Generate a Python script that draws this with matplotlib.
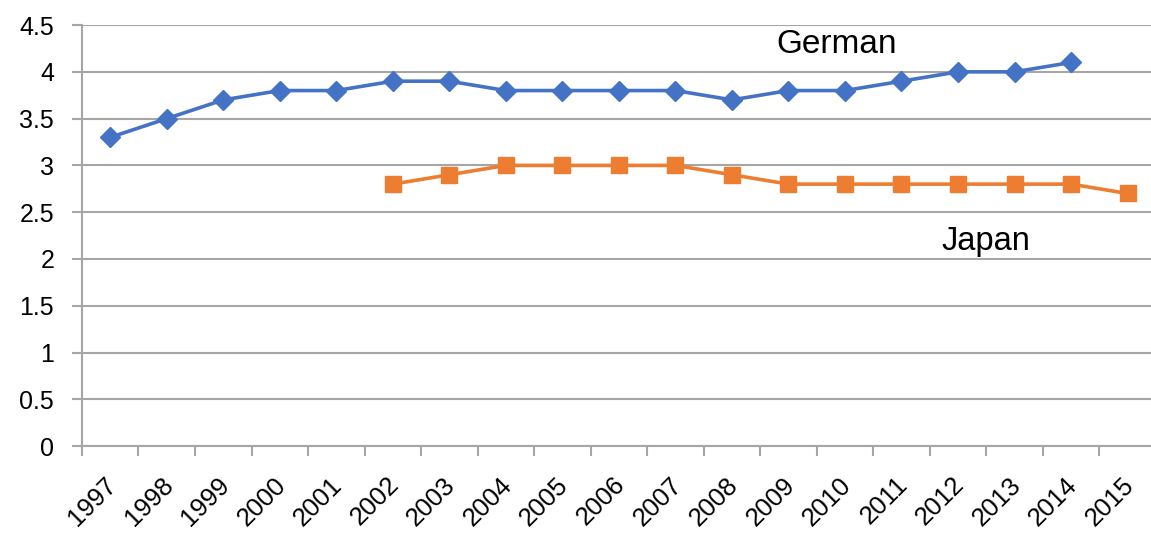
import matplotlib
matplotlib.use("Agg")
import matplotlib.pyplot as plt
from matplotlib.transforms import ScaledTranslation

plt.rcParams['font.family'] = ['Liberation Sans', 'DejaVu Sans']

years = [str(y) for y in range(1997, 2016)]
german_years = years[:18]
german = [3.3, 3.5, 3.7, 3.8, 3.8, 3.9, 3.9, 3.8, 3.8, 3.8, 3.8, 3.7, 3.8, 3.8, 3.9, 4.0, 4.0, 4.1]
japan_years = years[5:]
japan = [2.8, 2.9, 3.0, 3.0, 3.0, 3.0, 2.9, 2.8, 2.8, 2.8, 2.8, 2.8, 2.8, 2.7]
yticks = [0, 0.5, 1, 1.5, 2, 2.5, 3, 3.5, 4, 4.5]
ytick_labels = ['0', '0.5', '1', '1.5', '2', '2.5', '3', '3.5', '4', '4.5']

fig = plt.figure(figsize=(11.51, 5.33), dpi=100)
ax = fig.add_axes([0.0712, 0.163, 0.933, 0.79])

gx = [years.index(y) for y in german_years]
jx = [years.index(y) for y in japan_years]

ax.plot(gx, german, color='#4472C4', lw=2.6, marker='D', markersize=10.5, zorder=3)
ax.plot(jx, japan, color='#ED7D31', lw=2.6, marker='s', markersize=11.5, zorder=3)

ax.set_xlim(-0.5, len(years) - 0.5)
ax.set_ylim(0, 4.5)

ax.set_yticks(yticks)
ax.set_yticklabels(ytick_labels, fontsize=18)
ax.yaxis.grid(True, color='#A6A6A6', lw=1.5)
ax.set_axisbelow(True)

# category boundaries carry the tick marks, labels sit at category centres
ax.set_xticks([i - 0.5 for i in range(len(years) + 1)])
ax.set_xticklabels([])
ax.set_xticks(range(len(years)), minor=True)
ax.set_xticklabels(years, minor=True, rotation=45, ha='right',
                   rotation_mode='anchor', fontsize=18.5)
ax.tick_params(axis='x', which='minor', length=0, pad=19)
ax.tick_params(axis='x', which='major', length=7, color='#A6A6A6', width=1.5)
ax.tick_params(axis='y', length=7, color='#A6A6A6', width=1.5, pad=13)

shift = ScaledTranslation(-6 / 100, 0, fig.dpi_scale_trans)
for lbl in ax.get_xticklabels(minor=True):
    lbl.set_transform(lbl.get_transform() + shift)

for side in ('top', 'right'):
    ax.spines[side].set_visible(False)
for side in ('left', 'bottom'):
    ax.spines[side].set_color('#A6A6A6')
    ax.spines[side].set_linewidth(1.5)

ax.text(12.85, 4.20, 'German', fontsize=24, ha='center', va='baseline')
ax.text(15.5, 2.095, 'Japan', fontsize=23.5, ha='center', va='baseline')

fig.savefig('out.png', dpi=100)
